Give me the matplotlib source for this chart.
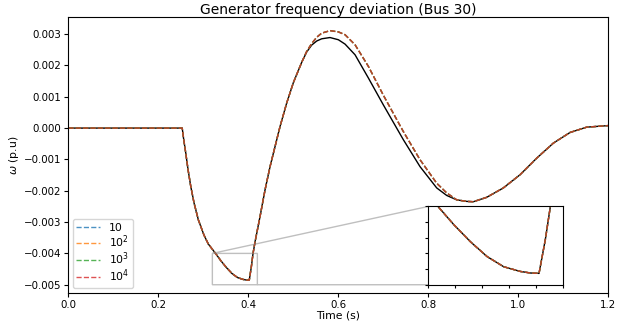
import matplotlib
matplotlib.use('Agg')
import matplotlib.pyplot as plt
from matplotlib.ticker import MultipleLocator

# time axis (s)
time = [0.0, 0.253, 0.2564, 0.2609, 0.266, 0.272, 0.2793, 0.2889, 0.3015, 0.311,
        0.3276, 0.3387, 0.3511, 0.3635, 0.3758, 0.3881, 0.3956, 0.402, 0.4067, 0.4104,
        0.415, 0.426, 0.4371, 0.4482, 0.4593, 0.4704, 0.4852, 0.5, 0.5186, 0.5297,
        0.5408, 0.552, 0.563, 0.5815, 0.6, 0.6149, 0.6371, 0.6667, 0.7, 0.7444,
        0.7815, 0.8186, 0.8408, 0.863, 0.8852, 0.9, 0.9297, 0.9667, 1.0037, 1.0408,
        1.0778, 1.1149, 1.152, 1.2]

# reference response (solid black)
omega_ref = [0.0, 0.0, -0.00037, -0.0008, -0.00133, -0.00186, -0.00239, -0.00293, -0.00342, -0.0037,
             -0.00401, -0.00423, -0.00445, -0.00464, -0.00477, -0.00483, -0.00485, -0.004855, -0.00442, -0.004,
             -0.00362, -0.00282, -0.00197, -0.00123, -0.00059, 0.00005, 0.0008, 0.00145, 0.0021, 0.00243,
             0.00265, 0.00278, 0.00285, 0.00289, 0.00282, 0.00268, 0.00234, 0.0016, 0.00074, -0.00037,
             -0.00123, -0.00191, -0.00215, -0.00229, -0.00234, -0.00235, -0.00221, -0.00191, -0.00149, -0.00096,
             -0.00048, -0.00014, 0.00003, 0.00008]

# responses for the four gains (they overlap on the plot)
omega_gain = [0.0, 0.0, -0.00037, -0.0008, -0.00133, -0.00186, -0.00239, -0.00293, -0.00342, -0.0037,
              -0.00401, -0.00423, -0.00445, -0.00464, -0.00477, -0.00483, -0.00485, -0.004855, -0.00442, -0.004,
              -0.00362, -0.00282, -0.00197, -0.00123, -0.00059, 0.00005, 0.0008, 0.00145, 0.0021, 0.00245,
              0.0027, 0.0029, 0.00303, 0.00311, 0.00307, 0.00298, 0.00266, 0.00197, 0.00105, -0.00011,
              -0.00101, -0.00176, -0.00207, -0.00229, -0.00234, -0.00235, -0.00221, -0.00191, -0.00149, -0.00096,
              -0.00048, -0.00014, 0.00003, 0.00008]

gain_labels = ['10', '$10^2$', '$10^3$', '$10^4$']
gain_colors = ['tab:blue', 'tab:orange', 'tab:green', 'tab:red']

fig = plt.figure(figsize=(6.39, 3.24), dpi=100)
ax = fig.add_axes([0.107, 0.097, 0.845, 0.85])


def draw_lines(axes, with_labels):
    axes.plot(time, omega_ref, color='black', linewidth=1.0)
    for lab, col in zip(gain_labels, gain_colors):
        axes.plot(time, omega_gain, color=col, linestyle='--', linewidth=1.0, alpha=0.8,
                  label=lab if with_labels else None)


draw_lines(ax, True)
ax.set_xlim(0, 1.2)
ax.set_ylim(-0.00525, 0.00354)
ax.set_title('Generator frequency deviation (Bus 30)', fontsize=10, pad=2)
ax.set_xlabel('Time (s)', fontsize=7.8, labelpad=1)
ax.set_ylabel(r'$\omega$ (p.u)', fontsize=7.8, labelpad=2)
ax.tick_params(labelsize=7.4, length=3, pad=2)
ax.legend(loc='lower left', fontsize=7.8, handlelength=2.2, labelspacing=0.05,
          borderpad=0.35, borderaxespad=0.4)

# zoomed inset around the minimum
axins = ax.inset_axes([0.8, -0.005, 0.3, 0.0025], transform=ax.transData)
draw_lines(axins, False)
axins.set_xlim(0.32, 0.42)
axins.set_ylim(-0.005, -0.004)
axins.xaxis.set_major_locator(MultipleLocator(0.02))
axins.yaxis.set_major_locator(MultipleLocator(0.0002))
axins.set_xticklabels([])
axins.set_yticklabels([])
axins.tick_params(length=2)
ax.indicate_inset_zoom(axins, edgecolor='gray')

fig.savefig('out.png', dpi=100)
